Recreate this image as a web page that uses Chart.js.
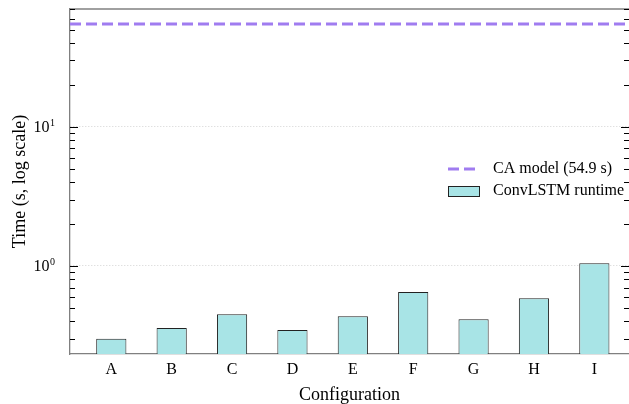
<!DOCTYPE html>
<html>
<head>
<meta charset="utf-8">
<script src="https://cdn.jsdelivr.net/npm/chart.js@4"></script>
<style>
    html, body { margin: 0; padding: 0; background: #fff; }
    #wrap { width: 629px; height: 404px; }
</style>
</head>
<body>
<div id="wrap"><canvas id="runtimeChart" width="629" height="404"></canvas></div>
<script>
// Chart data
const configurations = ['A', 'B', 'C', 'D', 'E', 'F', 'G', 'H', 'I'];
const convLstmRuntime = [0.300, 0.358, 0.450, 0.347, 0.435, 0.650, 0.414, 0.586, 1.045];
const caModelTime = 54.9;
const majorTicks = [1, 10];
const minorTicks = [0.3, 0.4, 0.5, 0.6, 0.7, 0.8, 0.9, 2, 3, 4, 5, 6, 7, 8, 9, 20, 30, 40, 50, 60, 70];
const xLimits = [-0.684, 8.574];
const yLimits = [0.233, 70.3];

const SERIF = "'Liberation Serif', 'DejaVu Serif', serif";
const BAR_FILL = '#a8e4e6';
const CA_COLOR = '#a07cf0';
const SPINE = '#808080';

/**
 * Spines, inward ticks, superscript labels and legend
 */
const axisDecorations = {
    id: 'axisDecorations',
    afterDraw(chart) {
        const { ctx, chartArea: area } = chart;
        const y = chart.scales.y;
        ctx.save();

        // top spine
        ctx.strokeStyle = SPINE;
        ctx.lineWidth = 1.3;
        ctx.beginPath();
        ctx.moveTo(area.left, area.top);
        ctx.lineTo(area.right, area.top);
        ctx.stroke();

        // inward ticks, both sides
        ctx.strokeStyle = '#000';
        ctx.lineWidth = 1;
        const drawTick = (v, len) => {
            const py = Math.round(y.getPixelForValue(v)) + 0.5;
            ctx.beginPath();
            ctx.moveTo(area.left, py);
            ctx.lineTo(area.left + len, py);
            ctx.moveTo(area.right, py);
            ctx.lineTo(area.right - len, py);
            ctx.stroke();
        };
        minorTicks.forEach(v => drawTick(v, 5));
        majorTicks.forEach(v => drawTick(v, 8));

        // tick labels as 10^n
        ctx.fillStyle = '#000';
        ctx.textBaseline = 'alphabetic';
        majorTicks.forEach(v => {
            const py = y.getPixelForValue(v);
            const exp = String(Math.round(Math.log10(v)));
            ctx.font = '10px ' + SERIF;
            const expW = ctx.measureText(exp).width;
            ctx.textAlign = 'right';
            ctx.fillText(exp, area.left - 15, py - 1);
            ctx.font = '16px ' + SERIF;
            ctx.fillText('10', area.left - 15 - expW - 0.5, py + 5);
        });

        // legend
        const lx = 448;
        ctx.font = '16px ' + SERIF;
        ctx.textAlign = 'left';
        ctx.textBaseline = 'middle';
        ctx.strokeStyle = CA_COLOR;
        ctx.lineWidth = 3;
        ctx.setLineDash([11, 5]);
        ctx.beginPath();
        ctx.moveTo(lx, 169);
        ctx.lineTo(lx + 30, 169);
        ctx.stroke();
        ctx.setLineDash([]);
        ctx.fillText('CA model (' + caModelTime + ' s)', 493, 169);

        ctx.fillStyle = BAR_FILL;
        ctx.fillRect(lx, 186, 32, 11);
        ctx.strokeStyle = '#222';
        ctx.lineWidth = 1;
        ctx.strokeRect(lx + 0.5, 186.5, 31, 10);
        ctx.fillStyle = '#000';
        ctx.fillText('ConvLSTM runtime', 493, 191);

        ctx.restore();
    }
};

new Chart(document.getElementById('runtimeChart'), {
    type: 'bar',
    data: {
        datasets: [
            {
                type: 'line',
                label: 'CA model (' + caModelTime + ' s)',
                data: xLimits.map(x => ({ x: x, y: caModelTime })),
                borderColor: CA_COLOR,
                borderWidth: 3,
                borderDash: [11, 5],
                pointRadius: 0,
                fill: false,
                order: 0
            },
            {
                label: 'ConvLSTM runtime',
                data: convLstmRuntime.map((v, i) => ({ x: i, y: v })),
                backgroundColor: BAR_FILL,
                borderColor: '#222',
                borderWidth: 1,
                barPercentage: 0.5,
                categoryPercentage: 1.0,
                order: 1
            }
        ]
    },
    options: {
        responsive: false,
        animation: false,
        layout: { padding: { top: 9, right: 0, left: 0, bottom: 0 } },
        plugins: {
            legend: { display: false },
            tooltip: { enabled: false }
        },
        scales: {
            x: {
                type: 'linear',
                offset: false,
                min: xLimits[0],
                max: xLimits[1],
                afterBuildTicks: (scale) => {
                    scale.ticks = configurations.map((c, i) => ({ value: i }));
                },
                afterFit: (scale) => { scale.height = 50; },
                ticks: {
                    color: '#000',
                    padding: -2,
                    maxRotation: 0,
                    font: { family: SERIF, size: 16 },
                    callback: (value) => configurations[value]
                },
                grid: { display: false },
                border: { display: true, color: SPINE, width: 1.3 },
                title: {
                    display: true,
                    text: 'Configuration',
                    color: '#000',
                    font: { family: SERIF, size: 18, lineHeight: 1.0 },
                    padding: { top: 0, bottom: 0 }
                }
            },
            y: {
                type: 'logarithmic',
                min: yLimits[0],
                max: yLimits[1],
                afterBuildTicks: (scale) => {
                    scale.ticks = majorTicks.map(v => ({ value: v }));
                },
                afterFit: (scale) => { scale.width = 70; },
                ticks: {
                    display: false
                },
                grid: {
                    color: '#c8c8c8',
                    lineWidth: 0.8,
                    drawTicks: false
                },
                border: { display: true, color: SPINE, width: 1.3, dash: [1, 2] },
                title: {
                    display: true,
                    text: 'Time (s, log scale)',
                    color: '#000',
                    font: { family: SERIF, size: 18 },
                    padding: { top: 9, bottom: 0 }
                }
            }
        }
    },
    plugins: [axisDecorations]
});
</script>
</body>
</html>
